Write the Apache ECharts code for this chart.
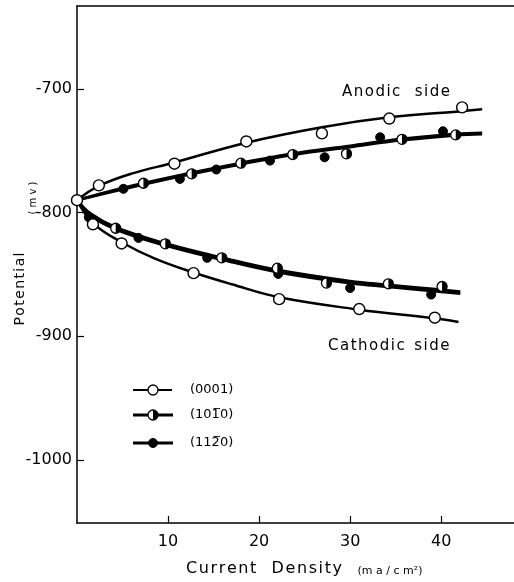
<!DOCTYPE html>
<html>
<head>
<meta charset="utf-8">
<script src="https://cdn.jsdelivr.net/npm/echarts@6/dist/echarts.min.js"></script>
<style>html,body{margin:0;padding:0;background:#fff;}#c{width:514px;height:582px;}</style>
</head>
<body>
<div id="c"></div>
<script>
// ---- data (current density ma/cm2, potential mV) ----
const xTicks = [10, 20, 30, 40];
const yTicks = [-700, -800, -900, -1000];

// measured points
const pts0001 = [[0,-790],[2.4,-778],[10.7,-760.5],[18.6,-742.5],[26.9,-736],[34.3,-724],[42.3,-715],
                 [1.75,-809.5],[4.9,-825],[12.8,-849],[22.2,-870],[31.0,-878],[39.3,-885]];
const pts1010 = [[7.3,-776.3],[12.6,-768.7],[18.0,-760.1],[23.7,-753.1],[29.6,-752.5],[35.7,-740.8],[41.6,-737.2],
                 [4.25,-812.7],[9.7,-825.3],[15.9,-836.6],[22.0,-845],[27.4,-857],[34.2,-857.6],[40.1,-859.8]];
const pts1120 = [[5.1,-780.8],[11.3,-772.8],[15.3,-765.2],[21.2,-758],[27.2,-755.3],[33.3,-739.1],[40.2,-734.3],
                 [1.3,-803.8],[6.75,-820.5],[14.3,-836.6],[22.1,-849.6],[30.0,-861],[38.9,-866.3]];

// fitted curves
const curve0001A = [[0,-790],[2.4,-778.5],[6.0,-768.5],[10.7,-759.5],[18.6,-743.5],[26.9,-731],[34.3,-723],[42.3,-718],[44.5,-716.5]];
const curve0001C = [[0,-790],[1.75,-808.5],[4.9,-824],[8.5,-837],[12.8,-848.5],[17,-858],[22.2,-868.5],[31.0,-878.5],[39.3,-885.5],[41.9,-888.5]];
const curve1010A = [[0,-790],[5.1,-780],[12.5,-768],[18.0,-760],[23.5,-752.5],[30,-746],[35.7,-740.5],[41.6,-736.5],[44.5,-735.5]];
const curve1120A = [[0,-790],[5.1,-781],[12.5,-769],[18.0,-761],[23.5,-753.5],[30,-747],[35.7,-741.5],[41.6,-737.5],[44.5,-736.5]];
const curve1010C = [[0,-790],[1.5,-801],[4.25,-812],[9.7,-825],[15.9,-836.5],[22,-846.5],[30,-855.5],[34.2,-858.5],[40,-862.5],[42.1,-864]];
const curve1120C = [[0,-790],[1.3,-801.5],[4.25,-813.5],[9.7,-826.5],[15.9,-838],[22,-848],[30,-857],[34.2,-860],[40,-864],[42.1,-865.5]];

const legendNames = ['(0001)', '(101\u03050)', '(112\u03050)'];

const FONT = 'DejaVu Sans';
const INK = '#000';
const HS = '\u200A';
function spaced(s) { return s.split('').join(HS); }

const chart = echarts.init(document.getElementById('c'), null, {renderer: 'canvas'});

function curve(data, w, z) {
  return {type: 'line', data: data, smooth: 0.4, showSymbol: false, silent: true,
          lineStyle: {color: INK, width: w, opacity: 1}, z: z, animation: false};
}
const halfPath = 'path://M0,0 A10,10 0 0,1 0,20 Z';

const option = {
  backgroundColor: '#fff',
  animation: false,
  grid: {left: 77, top: 6, width: 448, height: 517},
  xAxis: [{
    type: 'value', min: 0, max: 48,
    axisLine: {show: true, lineStyle: {color: INK, width: 1.5}},
    axisTick: {show: true, inside: true, length: 7, customValues: xTicks, lineStyle: {color: INK, width: 1.2}},
    axisLabel: {show: true, customValues: xTicks, margin: 11, color: INK, fontFamily: FONT, fontSize: 16},
    splitLine: {show: false}
  }, {
    type: 'value', min: 0, max: 48, position: 'top',
    axisLine: {show: true, lineStyle: {color: INK, width: 1.5}},
    axisTick: {show: false}, axisLabel: {show: false}, splitLine: {show: false}
  }],
  yAxis: {
    type: 'value', min: -1051, max: -633,
    axisLine: {show: true, lineStyle: {color: INK, width: 1.5}},
    axisTick: {show: true, inside: true, length: 7, customValues: yTicks, lineStyle: {color: INK, width: 1.2}},
    axisLabel: {show: true, customValues: yTicks, margin: 5, color: INK, fontFamily: FONT, fontSize: 16,
                formatter: function (v) { return String(v); }},
    splitLine: {show: false}
  },
  series: [
    curve(curve0001A, 2.5, 2),
    curve(curve0001C, 2.5, 2),
    curve(curve1010A, 2.8, 2),
    curve(curve1120A, 2.8, 2),
    curve(curve1010C, 3, 2),
    curve(curve1120C, 3, 2),
    {type: 'scatter', data: pts1120, symbol: 'circle', symbolSize: 9, z: 5,
     itemStyle: {color: INK, borderColor: INK, borderWidth: 1, opacity: 1}},
    {type: 'scatter', data: pts0001, symbol: 'circle', symbolSize: 11, z: 5,
     itemStyle: {color: '#fff', borderColor: INK, borderWidth: 1.4, opacity: 1}},
    {type: 'scatter', data: pts1010, symbol: 'circle', symbolSize: 10, z: 5,
     itemStyle: {color: '#fff', borderColor: INK, borderWidth: 1.3, opacity: 1}},
    {type: 'scatter', data: pts1010, symbol: halfPath, symbolSize: [5, 10], symbolOffset: [2.5, 0], z: 6,
     itemStyle: {color: INK, borderWidth: 0, opacity: 1}}
  ],
  graphic: [
    {type: 'text', x: 20, y: 289, rotation: Math.PI / 2, z: 10,
     style: {text: spaced('Potential'), fontFamily: FONT, fontSize: 14, fill: INK, align: 'center', verticalAlign: 'middle'}},
    {type: 'text', x: 38, y: 198, rotation: Math.PI / 2, z: 10,
     style: {text: '( m v )', fontFamily: FONT, fontSize: 10, fill: INK, align: 'center', verticalAlign: 'bottom'}},
    {type: 'text', x: 264, y: 569, z: 10,
     style: {text: spaced('Current') + '   ' + spaced('Density'), fontFamily: FONT, fontSize: 16, fill: INK, align: 'center', verticalAlign: 'middle'}},
    {type: 'text', x: 390, y: 571, z: 10,
     style: {text: '(m a / c m\u00B2)', fontFamily: FONT, fontSize: 11, fill: INK, align: 'center', verticalAlign: 'middle'}},
    {type: 'text', x: 342, y: 92, z: 10,
     style: {text: spaced('Anodic') + '   ' + spaced('side'), fontFamily: FONT, fontSize: 15, fill: INK, verticalAlign: 'middle'}},
    {type: 'text', x: 328, y: 346, z: 10,
     style: {text: spaced('Cathodic') + '  ' + spaced('side'), fontFamily: FONT, fontSize: 15, fill: INK, verticalAlign: 'middle'}},
    // legend
    {type: 'line', shape: {x1: 133, y1: 390, x2: 172, y2: 390}, style: {stroke: INK, lineWidth: 2}},
    {type: 'circle', shape: {cx: 153, cy: 390, r: 5}, style: {fill: '#fff', stroke: INK, lineWidth: 1.3}},
    {type: 'text', x: 190, y: 390, style: {text: legendNames[0], fontFamily: FONT, fontSize: 13, fill: INK, verticalAlign: 'middle'}},
    {type: 'line', shape: {x1: 133, y1: 415, x2: 173, y2: 415}, style: {stroke: INK, lineWidth: 3}},
    {type: 'circle', shape: {cx: 153, cy: 415, r: 5}, style: {fill: '#fff', stroke: INK, lineWidth: 1.3}},
    {type: 'sector', shape: {cx: 153, cy: 415, r: 5, r0: 0, startAngle: -Math.PI / 2, endAngle: Math.PI / 2, clockwise: true}, style: {fill: INK}},
    {type: 'text', x: 190, y: 415, style: {text: legendNames[1], fontFamily: FONT, fontSize: 13, fill: INK, verticalAlign: 'middle'}},
    {type: 'line', shape: {x1: 133, y1: 443, x2: 173, y2: 443}, style: {stroke: INK, lineWidth: 3}},
    {type: 'circle', shape: {cx: 153, cy: 443, r: 4.5}, style: {fill: INK, stroke: INK, lineWidth: 1}},
    {type: 'text', x: 190, y: 443, style: {text: legendNames[2], fontFamily: FONT, fontSize: 13, fill: INK, verticalAlign: 'middle'}}
  ]
};
chart.setOption(option);
</script>
</body>
</html>
